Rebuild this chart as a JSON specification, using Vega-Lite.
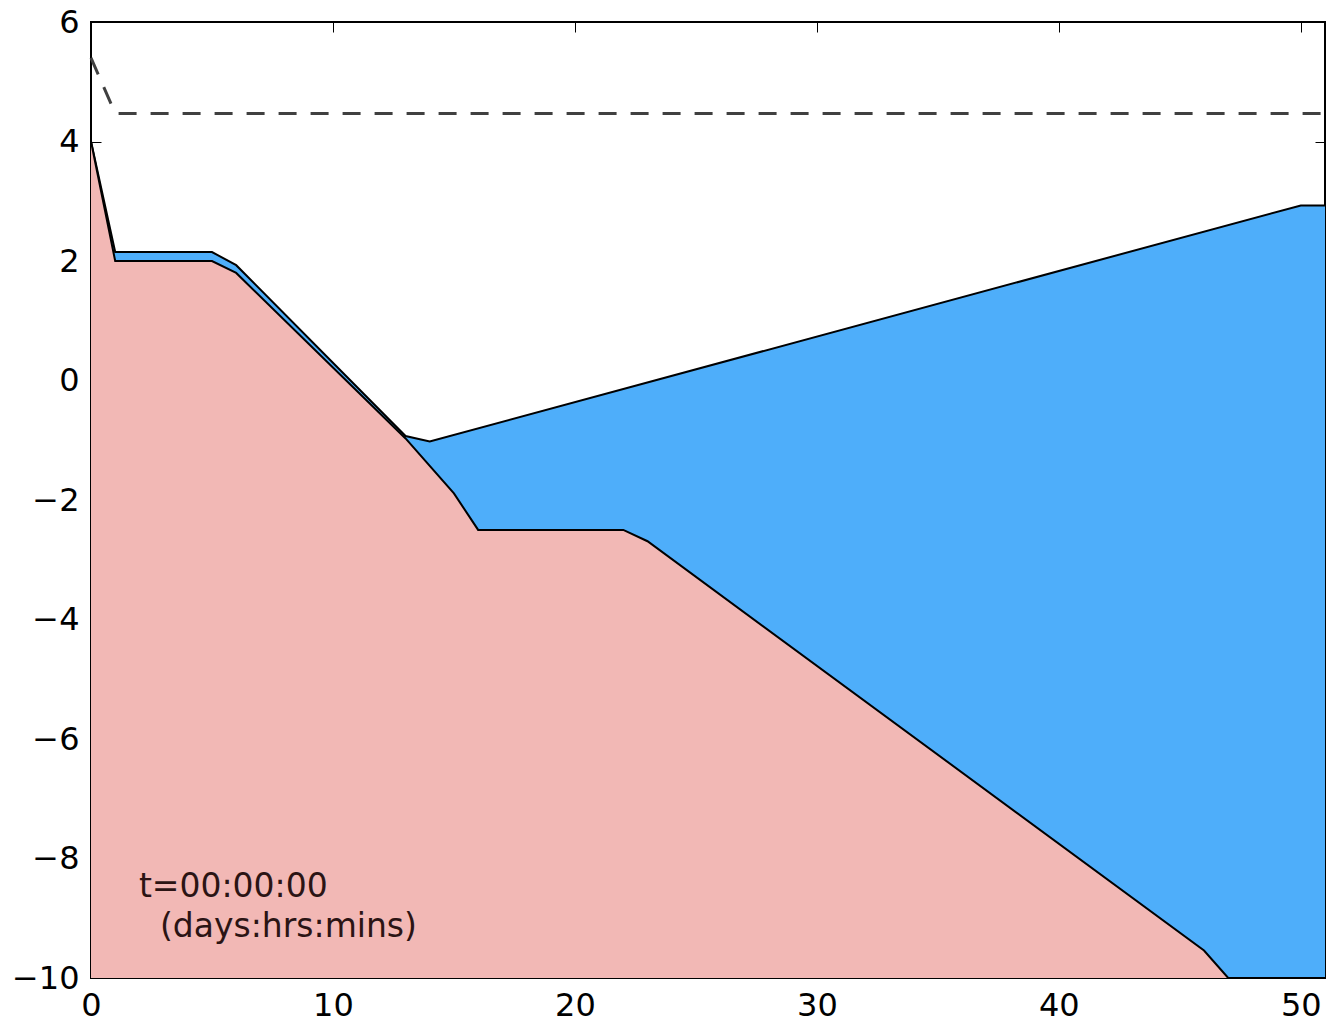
{
  "$schema": "https://vega.github.io/schema/vega-lite/v6.json",
  "autosize": {"type": "none"},
  "padding": {"left": 91, "top": 22, "right": 2, "bottom": 46},
  "width": 1234,
  "height": 956,
  "background": "white",
  "config": {
    "view": {"stroke": "black", "strokeWidth": 2},
    "axis": {
      "grid": false,
      "domain": false,
      "tickColor": "black",
      "tickWidth": 1,
      "tickSize": -10,
      "labelFont": "DejaVu Sans",
      "labelFontSize": 32,
      "labelColor": "black",
      "labelPadding": 22,
      "labelFlush": false,
      "labelOverlap": false,
      "title": null
    }
  },
  "datasets": {
    "top": [
      {"x": 0, "y": 4}, {"x": 1, "y": 2.15}, {"x": 5, "y": 2.15}, {"x": 6, "y": 1.93},
      {"x": 13, "y": -0.93}, {"x": 14, "y": -1.02}, {"x": 50, "y": 2.93}, {"x": 51, "y": 2.93}
    ],
    "bottom": [
      {"x": 0, "y": 4}, {"x": 1, "y": 2}, {"x": 5, "y": 2}, {"x": 6, "y": 1.8},
      {"x": 13, "y": -0.97}, {"x": 15, "y": -1.89}, {"x": 16, "y": -2.5}, {"x": 22, "y": -2.5},
      {"x": 23, "y": -2.69}, {"x": 46, "y": -9.54}, {"x": 47, "y": -10}, {"x": 51, "y": -10}
    ],
    "dash": [
      {"x": 0, "y": 5.4}, {"x": 1, "y": 4.47}, {"x": 51, "y": 4.47}
    ],
    "label": [
      {"x": 1.98, "y": -8.64, "t": "t=00:00:00"},
      {"x": 2.85, "y": -9.31, "t": "(days:hrs:mins)"}
    ]
  },
  "resolve": {"axis": {"x": "independent", "y": "independent"}},
  "layer": [
    {
      "data": {"name": "top"},
      "mark": {"type": "area", "color": "#4eaefa", "opacity": 1},
      "encoding": {
        "x": {"field": "x", "type": "quantitative", "scale": {"domain": [0, 51], "nice": false, "zero": false},
              "axis": {"orient": "bottom", "values": [0, 10, 20, 30, 40, 50]}},
        "y": {"field": "y", "type": "quantitative", "scale": {"domain": [-10, 6], "nice": false, "zero": false},
              "axis": {"orient": "left", "values": [-10, -8, -6, -4, -2, 0, 2, 4, 6]}},
        "y2": {"datum": -10}
      }
    },
    {
      "data": {"name": "top"},
      "mark": {"type": "line", "color": "black", "strokeWidth": 2},
      "encoding": {
        "x": {"field": "x", "type": "quantitative",
              "axis": {"orient": "top", "values": [0, 10, 20, 30, 40, 50], "labels": false}},
        "y": {"field": "y", "type": "quantitative",
              "axis": {"orient": "right", "values": [-10, -8, -6, -4, -2, 0, 2, 4, 6], "labels": false}}
      }
    },
    {
      "data": {"name": "bottom"},
      "mark": {"type": "area", "color": "#f2b8b5", "opacity": 1},
      "encoding": {
        "x": {"field": "x", "type": "quantitative", "axis": null},
        "y": {"field": "y", "type": "quantitative", "axis": null},
        "y2": {"datum": -10}
      }
    },
    {
      "data": {"name": "bottom"},
      "mark": {"type": "line", "color": "black", "strokeWidth": 2},
      "encoding": {
        "x": {"field": "x", "type": "quantitative", "axis": null},
        "y": {"field": "y", "type": "quantitative", "axis": null}
      }
    },
    {
      "data": {"name": "dash"},
      "mark": {"type": "line", "color": "#404040", "strokeWidth": 3, "strokeDash": [18, 14]},
      "encoding": {
        "x": {"field": "x", "type": "quantitative", "axis": null},
        "y": {"field": "y", "type": "quantitative", "axis": null}
      }
    },
    {
      "data": {"name": "label"},
      "mark": {"type": "text", "align": "left", "baseline": "alphabetic", "font": "DejaVu Sans", "fontSize": 33, "color": "#2b1414"},
      "encoding": {
        "x": {"field": "x", "type": "quantitative", "axis": null},
        "y": {"field": "y", "type": "quantitative", "axis": null},
        "text": {"field": "t"}
      }
    }
  ]
}
